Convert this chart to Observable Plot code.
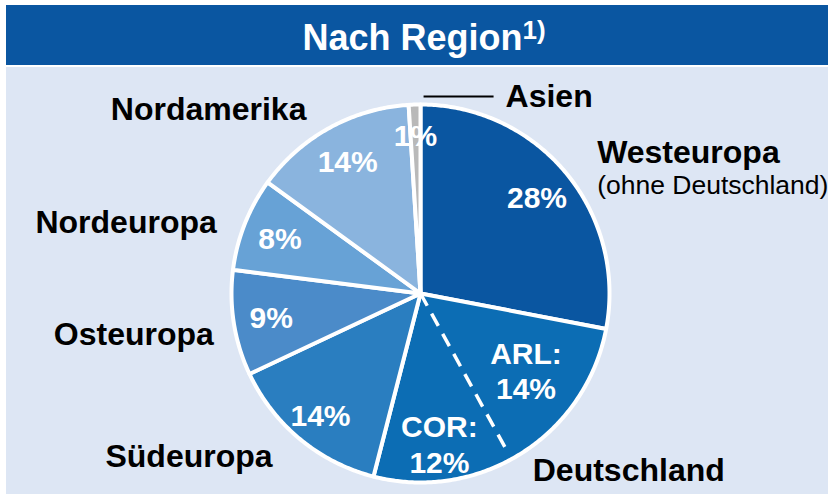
<!DOCTYPE html>
<html>
<head>
<meta charset="utf-8">
<script src="https://cdn.jsdelivr.net/npm/d3@7"></script>
<script src="https://cdn.jsdelivr.net/npm/@observablehq/plot@0.6"></script>
<style>
  html, body { margin: 0; padding: 0; background: #ffffff; }
  body { width: 829px; height: 494px; overflow: hidden; font-family: "Liberation Sans", Arial, sans-serif; }
  #title {
    margin: 5px 0 0 6px; width: 822px; height: 60px; box-sizing: border-box;
    background: #0a56a1; color: #ffffff; font-weight: bold; font-size: 36px;
    line-height: 60px; text-align: center; padding-left: 14px; padding-top: 3px;
  }
  #title sup { font-size: 26px; vertical-align: 11px; line-height: 0; }
  #chart { margin: 2px 0 0 6px; }
  #chart svg { display: block; }
</style>
</head>
<body>
<div id="title">Nach Region<sup>1)</sup></div>
<div id="chart"></div>
<script>
// ---- data ----
const regions = ["Westeuropa", "Deutschland", "Südeuropa", "Osteuropa", "Nordeuropa", "Nordamerika", "Asien"];
const shares = [28, 26, 14, 9, 8, 14, 1];
const germanyParts = ["ARL", "COR"];
const germanyShares = [14, 12];
const subtitleWest = "(ohne Deutschland)";

// ---- styles / layout ----
const palette = ["#0a56a1", "#0c6db4", "#2a7ec0", "#4b8bc9", "#67a2d6", "#8ab4de", "#b9b9b9"];
const W = 822, H = 427, CX = 414, CY = 226, R = 189;
const pctRadius = {Südeuropa: 0.83, Asien: 0.84};
const outside = {
  Westeuropa:  {anchor: "start",  dx: 31,   dy: -20},
  Deutschland: {anchor: "middle", dx: 107,  dy: 18},
  Südeuropa:   {anchor: "middle", dx: -111, dy: 18},
  Osteuropa:   {anchor: "end",    dx: -20,  dy: 12},
  Nordeuropa:  {anchor: "end",    dx: -28,  dy: -1},
  Nordamerika: {anchor: "end",    dx: -23,  dy: -18},
  Asien:       {anchor: "start",  dx: 91,   dy: -8}
};
const subRadius = {ARL: 0.69, COR: 0.8};

// ---- geometry from data ----
const rows = regions.map((r, i) => ({region: r, share: shares[i]}));
const arcs = d3.pie().sort(null).value(d => d.share)(rows);
const pts = arcs.flatMap(a => {
  const n = Math.max(2, Math.ceil((a.endAngle - a.startAngle) / 0.01));
  const p = [{region: a.data.region, x: 0, y: 0}];
  for (let i = 0; i <= n; i++) {
    const t = a.startAngle + (a.endAngle - a.startAngle) * i / n;
    p.push({region: a.data.region, x: Math.sin(t), y: Math.cos(t)});
  }
  return p;
});
const mid = a => (a.startAngle + a.endAngle) / 2;

// Germany sub-slices
const de = arcs.find(a => a.data.region === "Deutschland");
const deTotal = d3.sum(germanyShares);
let acc = de.startAngle;
const subArcs = germanyParts.map((name, i) => {
  const span = (de.endAngle - de.startAngle) * germanyShares[i] / deTotal;
  const s = {name, share: germanyShares[i], startAngle: acc, endAngle: acc + span};
  acc += span;
  return s;
});
const dividers = subArcs.slice(0, -1).map(s => ({angle: s.endAngle}));

// percentage labels
const pctLabels = arcs.filter(a => a.data.region !== "Deutschland").map(a => {
  const r = pctRadius[a.data.region] ?? 0.8;
  return {x: r * Math.sin(mid(a)), y: r * Math.cos(mid(a)), text: a.data.share + "%"};
}).concat(subArcs.map(s => {
  const r = subRadius[s.name];
  return {x: r * Math.sin(mid(s)), y: r * Math.cos(mid(s)), text: s.name + ":\n" + s.share + "%"};
}));

// outside name labels
const outLabels = arcs.map(a => {
  const o = outside[a.data.region];
  return {
    region: a.data.region, anchor: o.anchor,
    x: Math.sin(mid(a)) + o.dx / R,
    y: Math.cos(mid(a)) - o.dy / R,
    ax: Math.sin(mid(a)), ay: Math.cos(mid(a))
  };
});
const west = outLabels.find(d => d.region === "Westeuropa");
const asia = outLabels.find(d => d.region === "Asien");

const nameMark = anchor => Plot.text(outLabels.filter(d => d.anchor === anchor), {
  x: "x", y: "y", text: "region", textAnchor: anchor,
  fill: "#000", fontSize: 32, fontWeight: "bold"
});

const chart = Plot.plot({
  width: W, height: H, margin: 0,
  x: {domain: [-1, 1], range: [CX - R, CX + R], axis: null},
  y: {domain: [-1, 1], range: [CY + R, CY - R], axis: null},
  color: {domain: regions, range: palette},
  style: {background: "#dde6f4", fontFamily: "'Liberation Sans', Arial, sans-serif", overflow: "visible"},
  marks: [
    Plot.line(pts, {x: "x", y: "y", z: "region", fill: "region", stroke: "white",
      strokeWidth: 4, curve: "linear-closed", strokeLinejoin: "round"}),
    Plot.link(dividers, {x1: 0, y1: 0,
      x2: d => 0.96 * Math.sin(d.angle), y2: d => 0.96 * Math.cos(d.angle),
      stroke: "white", strokeWidth: 3.5, strokeDasharray: "14,9"}),
    Plot.text(pctLabels, {x: "x", y: "y", text: "text", fill: "white",
      fontSize: 30, fontWeight: "bold", lineHeight: 1.18}),
    nameMark("start"), nameMark("middle"), nameMark("end"),
    Plot.text([west], {x: "x", y: d => d.y - 32 / R, text: () => subtitleWest,
      textAnchor: "start", fill: "#000", fontSize: 26.5}),
    Plot.link([asia], {x1: d => d.ax + 9 / R, x2: d => d.ax + 79 / R,
      y1: d => d.ay + 8 / R, y2: d => d.ay + 8 / R, stroke: "#000", strokeWidth: 2})
  ]
});
document.getElementById("chart").appendChild(chart);
</script>
</body>
</html>
